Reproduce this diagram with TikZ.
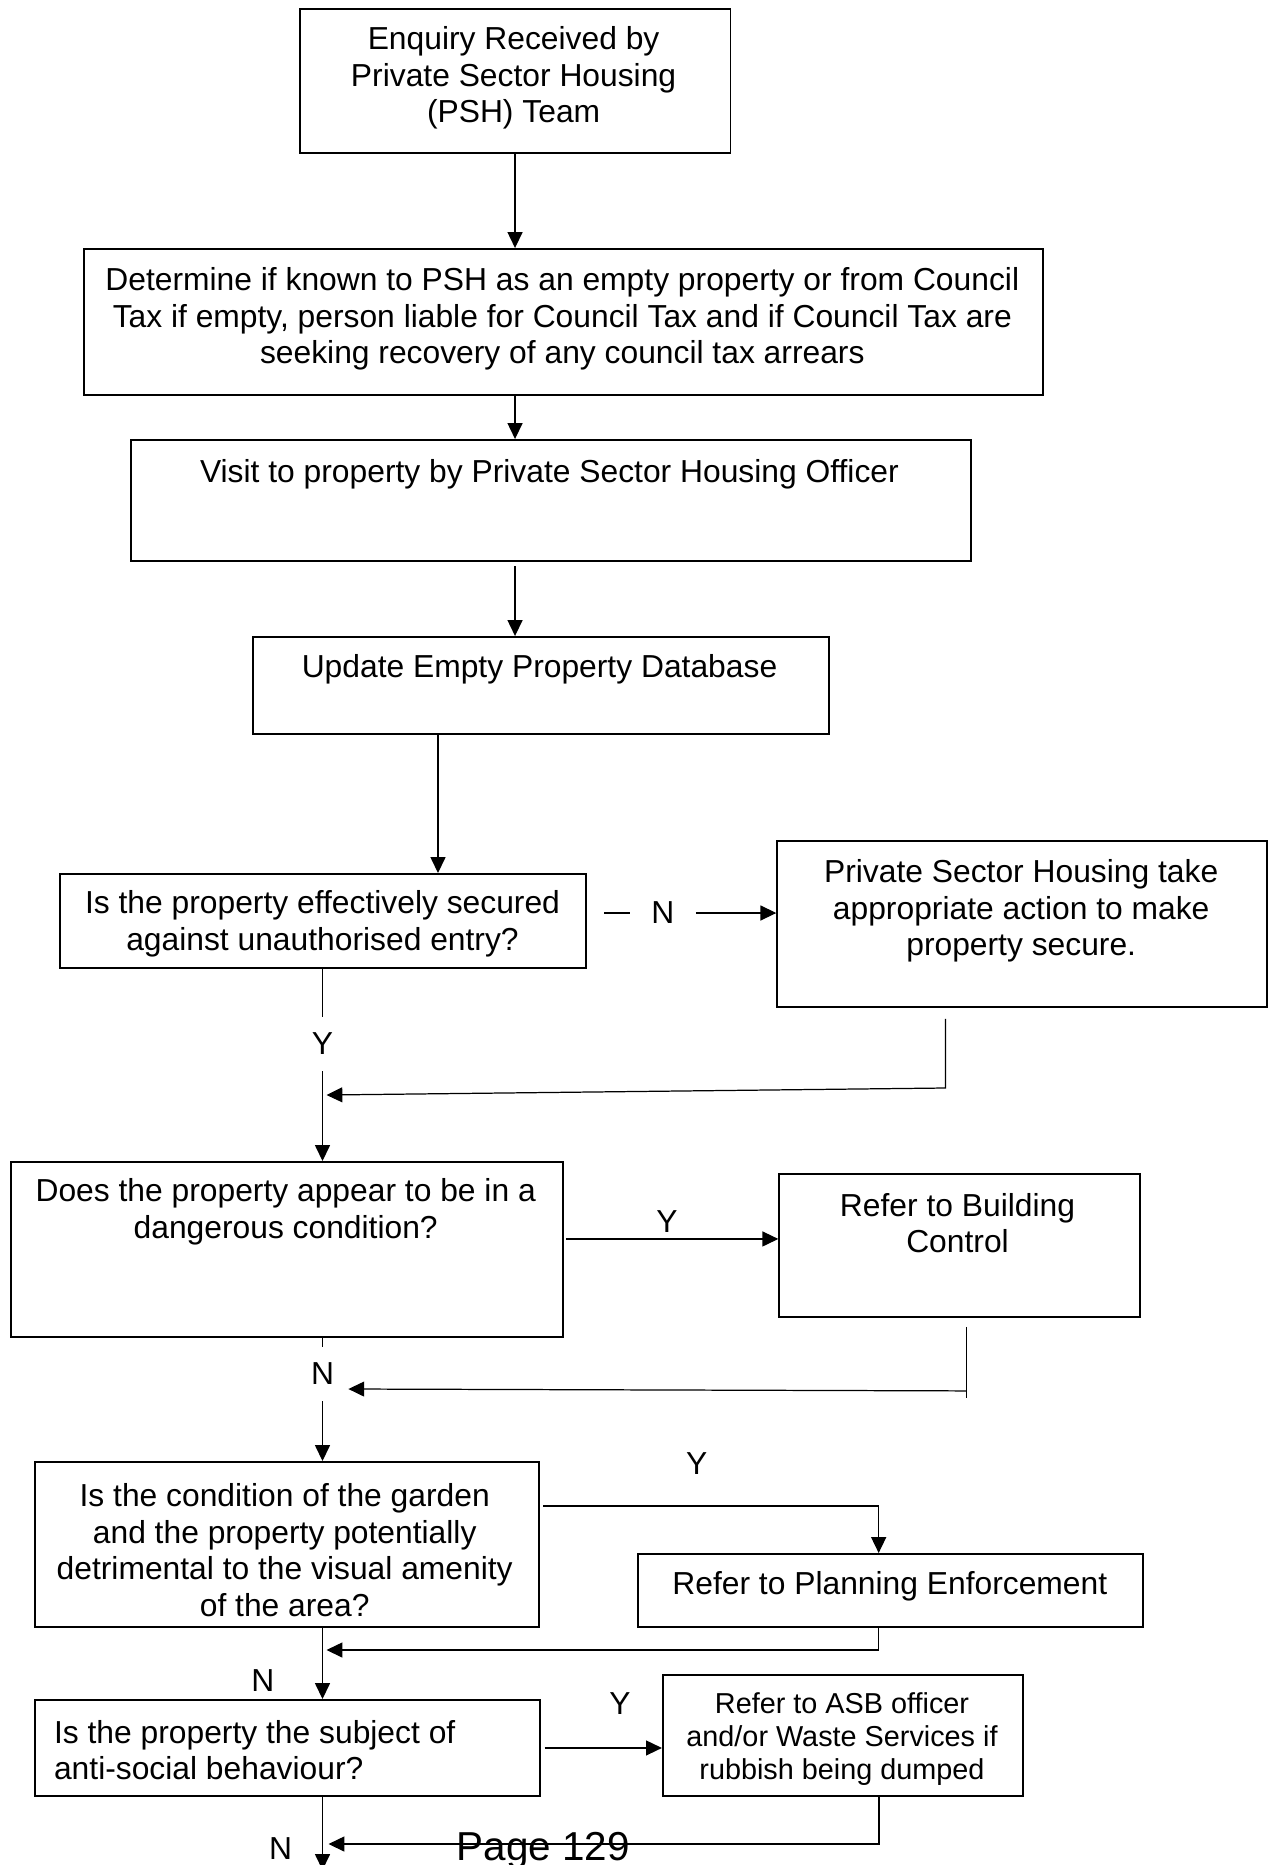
\documentclass[tikz,border=0pt]{standalone}
\usepackage{fontspec}
\setmainfont{Liberation Sans}
\usepackage{xcolor}
\usepackage{tikz}
\usetikzlibrary{calc,arrows.meta,positioning}
\tikzset{
  box/.style={draw,line width=1.1pt,rectangle,anchor=north west,inner sep=0pt},
  txt/.style={align=center,inner sep=0pt,font=\fontsize{18.1}{20.8}\selectfont},
  smalltxt/.style={align=center,inner sep=0pt,font=\fontsize{16.4}{18.9}\selectfont},
  lbl/.style={inner xsep=12pt,inner ysep=9pt,font=\fontsize{18.1}{20.8}\selectfont},
  ar/.style={-{Triangle[length=9pt,width=8.5pt]},line width=0.7pt},
  ln/.style={line width=0.7pt}
}
\begin{document}
\begin{tikzpicture}[x=0.02cm,y=-0.02cm]
\useasboundingbox (0,0) rectangle (1275,1865);
\coordinate (spine) at (322.5,0);
\coordinate (railA) at (438,0);
% boxes
\node[box,minimum width=8.62cm,minimum height=2.88cm] (enq) at (298.6,8) {};
\node[box,minimum width=19.19cm,minimum height=2.92cm] (det) at (82.6,248) {};
\node[box,minimum width=16.80cm,minimum height=2.42cm] (visit) at (130.4,439) {};
\node[box,minimum width=11.53cm,minimum height=1.94cm] (upd) at (251.8,636) {};
\node[box,minimum width=10.53cm,minimum height=1.88cm] (secure) at (58.7,873) {};
\node[box,minimum width=9.79cm,minimum height=3.32cm] (act) at (776.3,840) {};
\node[box,minimum width=11.05cm,minimum height=3.50cm] (dang) at (10,1161) {};
\node[box,minimum width=7.21cm,minimum height=2.86cm] (bc) at (778.3,1173) {};
\node[box,minimum width=10.09cm,minimum height=3.30cm] (gard) at (33.8,1461) {};
\node[box,minimum width=10.11cm,minimum height=1.46cm] (plan) at (637,1553) {};
\node[box,minimum width=10.11cm,minimum height=1.92cm] (asb) at (33.8,1699) {};
\node[box,minimum width=7.21cm,minimum height=2.42cm] (refasb) at (661.9,1674) {};
% texts
\node[txt] (enqT) at (513.6,78) {Enquiry Received by\\Private Sector Housing\\(PSH) Team};
\node[txt] (detT) at (562.3,319) {Determine if known to PSH as an empty property or from Council\\Tax if empty, person liable for Council Tax and if Council Tax are\\seeking recovery of any council tax arrears};
\node[txt] (visitT) at (549.4,474) {Visit to property by Private Sector Housing Officer};
\node[txt] (updT) at (539.5,669) {Update Empty Property Database};
\node[txt] (secureT) at (322.5,924) {Is the property effectively secured\\against unauthorised entry?};
\node[txt] (actT) at (1021.2,911) {Private Sector Housing take\\appropriate action to make\\property secure.};
\node[txt] (dangT) at (285.7,1212) {Does the property appear to be in a\\dangerous condition?};
\node[txt] (bcT) at (957.5,1223) {Refer to Building\\Control};
\node[txt] (gardT) at (284.7,1550) {Is the condition of the garden\\and the property potentially\\detrimental to the visual amenity\\of the area?};
\node[txt] (planT) at (889.8,1586) {Refer to Planning Enforcement};
\node[txt,align=left,anchor=west] (asbT) at (53.7,1750) {Is the property the subject of\\anti-social behaviour?};
\node[smalltxt] (refasbT) at (842,1739) {Refer to ASB officer\\and/or Waste Services if\\rubbish being dumped};
% Y / N labels
\node[lbl] (nsec) at (662.9,913) {N};
\node[lbl] (ysec) at (322.5,1044) {Y};
\node[lbl] (ydang) at (666.9,1222) {Y};
\node[lbl] (ndang) at (322.5,1374) {N};
\node[lbl] (ygard) at (696.7,1464) {Y};
\node[lbl] (ngard) at (262.8,1681) {N};
\node[lbl] (yasb) at (620,1704) {Y};
\node[lbl] (nasb) at (280.7,1849) {N};
\node[font=\fontsize{23}{26}\selectfont,anchor=base,inner sep=0pt] (pgno) at (543.4,1860) {Page 129};
% join points
\coordinate (backA) at (945.5,1088);
\coordinate (joinA) at (326.5,1095);
\coordinate (joinB) at (348.4,1389);
\coordinate (joinC) at (326.5,1650);
\coordinate (joinD) at (328.5,1844);
\coordinate (exit) at (322.5,1870);
% connectors
\draw[ar] (enq.south) -- (enq.south |- det.north);
\draw[ar] (det.south -| enq.south) -- (visit.north -| enq.south);
\draw[ar,shorten <=2.5pt] (visit.south -| enq.south) -- (upd.north -| enq.south);
\draw[ar] (upd.south -| railA) -- (secure.north -| railA);
\draw[ln] ($(secure.east |- nsec)+(17,0)$) -- (nsec);
\draw[ar] (nsec) -- (nsec -| act.west);
\draw[ln] (secure.south -| spine) -- (ysec);
\draw[ar] (ysec) -- (dang.north -| spine);
\draw[ar] (act.south -| backA) ++(0,11) -- (backA) -- (joinA);
\draw[ar] ($(dang.east)+(2,-10.5)$) coordinate (ya) -- (ya -| bc.west);
\draw[ln] ($(bc.south)+(7,9)$) -- ++(0,71);
\draw[ar] ($(bc.south)+(7,73)$) -- (joinB);
\draw[ln] (dang.south -| spine) -- (ndang);
\draw[ar] (ndang) -- (gard.north -| spine);
\draw[ar] ($(gard.east)+(3,-38.5)$) -| ([xshift=-0.24cm]plan.north);
\draw[ar] ([xshift=-0.24cm]plan.south) |- (joinC);
\draw[ar] (gard.south -| spine) -- (asb.north -| spine);
\draw[ar] ([xshift=2pt]asb.east) -- (asb.east -| refasb.west);
\draw[ar] ([xshift=0.72cm]refasb.south) |- (joinD);
\draw[ar] (asb.south -| spine) -- (exit);
\end{tikzpicture}
\end{document}
